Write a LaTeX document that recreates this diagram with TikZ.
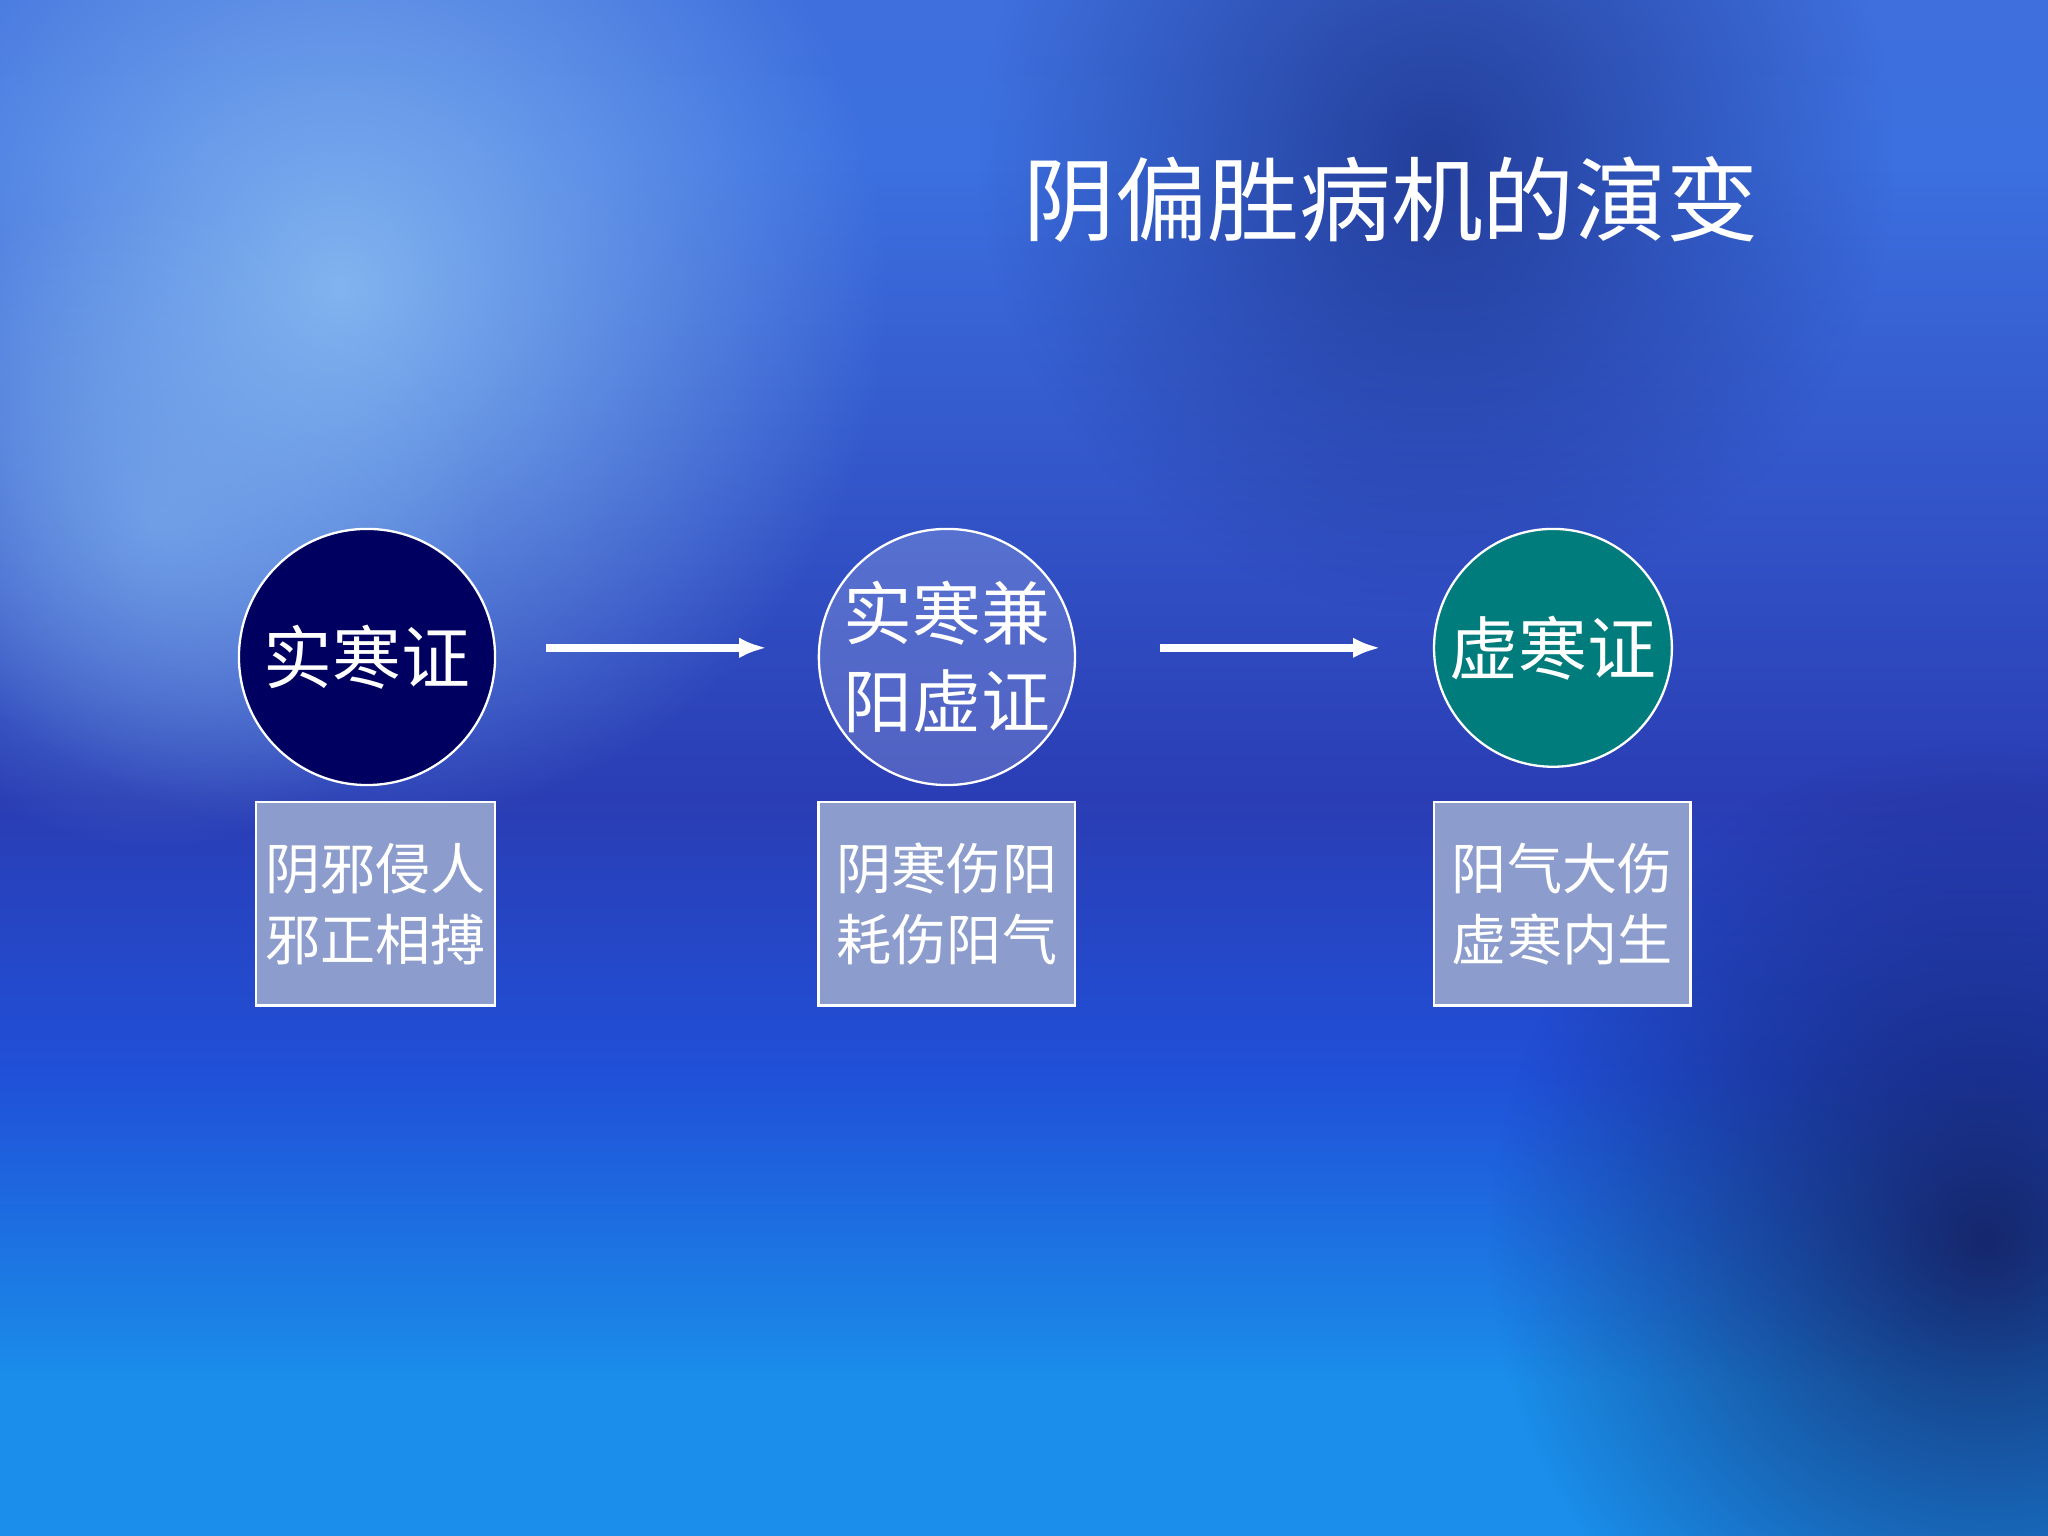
\documentclass[tikz,border=0pt]{standalone}
\usepackage{fontspec}
\newfontfamily\cjk{Noto Sans CJK SC}
\usetikzlibrary{fadings,arrows.meta}
\tikzfading[name=softdisc, inner color=transparent!0, outer color=transparent!100]
\definecolor{bA}{HTML}{4A6ACC}
\definecolor{bB}{HTML}{3C70E0}
\definecolor{bC}{HTML}{2A3DB4}
\definecolor{bD}{HTML}{2050D8}
\definecolor{bE}{HTML}{1A8EEA}
\definecolor{bF}{HTML}{1C6CCC}
\pgfdeclareverticalshading{bgsh}{100bp}{color(0bp)=(bF);color(18bp)=(bE);color(30bp)=(bE);color(40bp)=(bD);color(49bp)=(bC);color(70bp)=(bB);color(100bp)=(bA)}
\definecolor{navy}{HTML}{000060}
\definecolor{tealc}{HTML}{007C7C}
\definecolor{boxc}{HTML}{8C9CCC}
\begin{document}
\begin{tikzpicture}[x=0.01cm,y=-0.01cm,
  circ/.style={circle,draw=white,line width=0.5pt,text=white,font=\cjk\fontsize{15}{19}\selectfont,align=center,inner sep=0pt},
  infobox/.style={draw=white,line width=0.6pt,fill=boxc,text=white,font=\cjk\fontsize{12}{15.5}\selectfont,align=center,minimum width=1.85cm,minimum height=1.56cm,inner sep=0pt},
  arr/.style={draw=white,line width=1.6pt,-{Latex[length=6pt]}}]
\useasboundingbox (0,0) rectangle (1568,1176);
\shade[shading=bgsh] (0,0) rectangle (1568,1176);
\fill[color={rgb,255:red,130;green,180;blue,240},path fading=softdisc] (260,220) circle (420);
\fill[color={rgb,255:red,130;green,180;blue,240},path fading=softdisc,opacity=0.6] (120,400) circle (250);
\fill[color={rgb,255:red,20;green,20;blue,80},path fading=softdisc,opacity=0.8] (1520,950) circle (380);
\fill[color={rgb,255:red,20;green,30;blue,110},path fading=softdisc,opacity=0.6] (1100,120) circle (350);
\node[text=white,font=\cjk\fontsize{20}{24}\selectfont] (title) at (1065,153) {阴偏胜病机的演变};
\node[circ,fill=navy,minimum size=1.96cm] (c1) at (281,503) {实寒证};
\node[circ,fill=white,fill opacity=0.18,text opacity=1,minimum size=1.96cm] (c2) at (725,503) {实寒兼\\阳虚证};
\node[circ,fill=tealc,minimum size=1.82cm] (c3) at (1189,496) {虚寒证};
\node[infobox,minimum width=1.83cm] (b1) at (287.5,692) {阴邪侵人\\邪正相搏};
\node[infobox,minimum width=1.96cm] (b2) at (725,692) {阴寒伤阳\\耗伤阳气};
\node[infobox,minimum width=1.96cm] (b3) at (1196,692) {阳气大伤\\虚寒内生};
\coordinate (a1s) at (418,496); \coordinate (a1e) at (587,496);
\coordinate (a2s) at (888,496); \coordinate (a2e) at (1057,496);
\draw[arr] (a1s) -- (a1e);
\draw[arr] (a2s) -- (a2e);
\end{tikzpicture}
\end{document}
